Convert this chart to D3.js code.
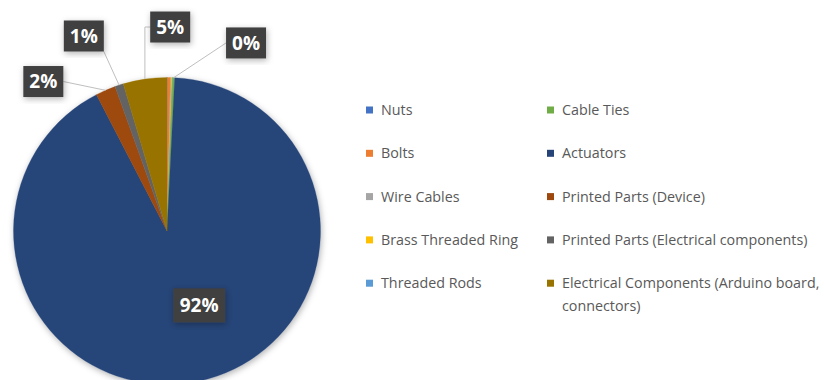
<!DOCTYPE html>
<html>
<head>
<meta charset="utf-8">
<script src="https://cdn.jsdelivr.net/npm/d3@7"></script>
<style>
  body { margin: 0; background: #fff; }
  svg { display: block; font-family: "Open Sans", "Liberation Sans", sans-serif; }
</style>
</head>
<body>
<svg id="chart" width="825" height="380"></svg>
<script>
// data (share of cost, %)
const categories = ["Nuts", "Bolts", "Wire Cables", "Brass Threaded Ring", "Threaded Rods",
  "Cable Ties", "Actuators", "Printed Parts (Device)", "Printed Parts (Electrical components)",
  "Electrical Components (Arduino board, connectors)"];
const values = [0.05, 0.3, 0.1, 0.1, 0.05, 0.2, 91.6, 2.1, 0.9, 4.6];
const colors = ["#4472C4", "#ED7D31", "#A5A5A5", "#FFC000", "#5B9BD5",
  "#70AD47", "#264478", "#9E480E", "#636363", "#997300"];

// label placement: polar position (deg clockwise from top, px from centre); inside labels get no leader
const labelPolar = [[22.8, 204], [22.8, 204], [22.8, 204], [22.8, 204], [22.8, 204],
  [22.8, 204], [156.6, 81], [320.4, 194], [336.9, 212], [0.9, 204]];

const width = 825, height = 380;
const cx = 167, cy = 231, radius = 153.5;

const svg = d3.select("#chart");

const defs = svg.append("defs");
const shadow = defs.append("filter").attr("id", "shadow")
  .attr("x", "-20%").attr("y", "-20%").attr("width", "140%").attr("height", "140%");
shadow.append("feDropShadow").attr("dx", 1).attr("dy", 2).attr("stdDeviation", 3)
  .attr("flood-color", "#000").attr("flood-opacity", 0.3);

const data = categories.map((c, i) => ({ name: c, value: values[i], color: colors[i], pos: labelPolar[i] }));
const total = d3.sum(values);
const fmt = d3.format(".0%");

const pie = d3.pie().sort(null).value(d => d.value);
const arc = d3.arc().innerRadius(0).outerRadius(radius);
const arcs = pie(data);

const g = svg.append("g").attr("transform", `translate(${cx},${cy})`);

g.append("g").attr("filter", "url(#shadow)")
  .selectAll("path")
  .data(arcs)
  .enter()
  .append("path")
    .attr("d", arc)
    .attr("fill", d => d.data.color)
    .attr("stroke", d => d.data.color)
    .attr("stroke-width", 0.3);

// labels (labels sharing one spot are drawn once, for the last slice there)
const polar = (deg, r) => [r * Math.sin(deg * Math.PI / 180), -r * Math.cos(deg * Math.PI / 180)];
const lines = g.append("g");
const labels = g.append("g");

const drawn = {};
arcs.slice().reverse().forEach(a => {
  const key = a.data.pos.join(",");
  if (drawn[key]) return;
  drawn[key] = true;
  const txt = fmt(a.data.value / total);
  const inside = a.data.value / total > 0.5;
  const w = inside ? 52 : 40, h = inside ? 34 : 31;
  const [lx, ly] = polar(a.data.pos[0], a.data.pos[1]);
  if (!inside) {
    const mid = (a.startAngle + a.endAngle) / 2;
    const px = radius * Math.sin(mid), py = -radius * Math.cos(mid);
    const x0 = lx - w / 2, x1 = lx + w / 2, y0 = ly - h / 2, y1 = ly + h / 2;
    const gapX = Math.max(x0 - px, px - x1, 0), gapY = Math.max(y0 - py, py - y1, 0);
    const sideX = px < x0 ? x0 : x1;
    let pts;
    if (gapX > 0 && gapX < 8) pts = [[px, py], [px, ly], [sideX, ly]];
    else if (gapX > gapY) pts = [[px, py], [sideX, ly]];
    else pts = [[px, py], [Math.max(x0, Math.min(x1, px)), Math.max(y0, Math.min(y1, py))]];
    lines.append("path")
      .attr("d", d3.line()(pts))
      .attr("fill", "none")
      .attr("stroke", "#bfbfbf")
      .attr("stroke-width", 1);
  }
  const lab = labels.append("g").attr("transform", `translate(${lx},${ly})`);
  lab.append("rect")
    .attr("x", -w / 2).attr("y", -h / 2).attr("width", w).attr("height", h)
    .attr("fill", "#404040")
    .attr("filter", "url(#shadow)");
  lab.append("text")
    .attr("text-anchor", "middle")
    .attr("dy", "0.36em")
    .attr("fill", "#fff")
    .attr("font-weight", "bold")
    .attr("font-size", 19)
    .text(txt);
});

// legend
const legendCols = [366, 547], legendY0 = 110, legendDy = 43.3;
const legend = svg.append("g");
const item = legend.selectAll("g")
  .data(data)
  .enter()
  .append("g")
    .attr("transform", (d, i) => `translate(${legendCols[Math.floor(i / 5)]},${legendY0 + (i % 5) * legendDy})`);

item.append("rect")
  .attr("x", 0).attr("y", -3.5).attr("width", 7).attr("height", 7)
  .attr("fill", d => d.color);

item.append("text")
  .attr("x", 15)
  .attr("fill", "#595959")
  .attr("font-size", 14.3)
  .each(function(d) {
    const parts = d.name.startsWith("Electrical Components")
      ? ["Electrical Components (Arduino board,", "connectors)"] : [d.name];
    const t = d3.select(this);
    parts.forEach((p, k) => t.append("tspan").attr("x", 15).attr("dy", k ? 23 : "0.35em").text(p));
  });
</script>
</body>
</html>
